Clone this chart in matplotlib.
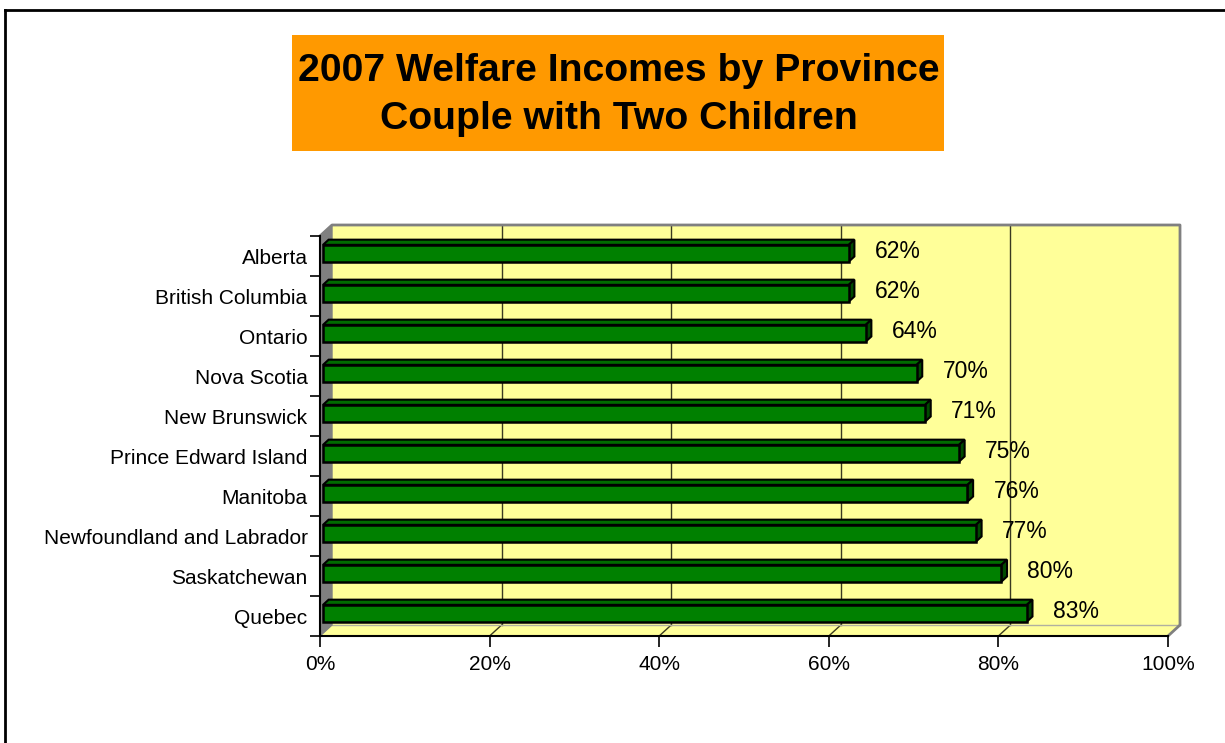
import matplotlib
matplotlib.use('Agg')
import matplotlib.pyplot as plt
from matplotlib.patches import Polygon, Rectangle
from matplotlib.transforms import IdentityTransform
from matplotlib.lines import Line2D

# ---------------- data ----------------
provinces = ["Alberta", "British Columbia", "Ontario", "Nova Scotia", "New Brunswick",
             "Prince Edward Island", "Manitoba", "Newfoundland and Labrador",
             "Saskatchewan", "Quebec"]
values = [62, 62, 64, 70, 71, 75, 76, 77, 80, 83]
value_labels = ["62%", "62%", "64%", "70%", "71%", "75%", "76%", "77%", "80%", "83%"]
xticks = [0, 20, 40, 60, 80, 100]
xticklabels = ["0%", "20%", "40%", "60%", "80%", "100%"]
title_lines = ["2007 Welfare Incomes by Province", "Couple with Two Children"]

plt.rcParams['font.family'] = ['Liberation Sans', 'DejaVu Sans']

W, H = 1225, 743
fig = plt.figure(figsize=(W / 100, H / 100), dpi=100)
fig.patch.set_facecolor('white')

n = len(provinces)
ax = fig.add_axes([320 / W, (H - 636) / H, 848 / W, 400 / H])
ax.set_xlim(0, 100)
ax.set_ylim(n - 0.5, -0.5)
ax.patch.set_visible(False)

DX, DY = 12, 11  # depth offset in pixels
ident = IdentityTransform()


def P(x, y, d):
    px, py = ax.transData.transform((x, y))
    return (px + d * DX, py + d * DY)


def poly(pts, fc, ec='none', lw=1.0, z=0.5):
    ax.add_patch(Polygon(pts, closed=True, facecolor=fc, edgecolor=ec, linewidth=lw,
                         transform=ident, clip_on=False, zorder=z))


def line(pts, color, lw=1.0, z=0.6):
    xs = [p[0] for p in pts]
    ys = [p[1] for p in pts]
    ax.add_line(Line2D(xs, ys, color=color, linewidth=lw, transform=ident,
                       clip_on=False, zorder=z))


top, bot = -0.5, n - 0.5
wall_yellow = '#FFFF99'
grey = '#808080'

# back wall
poly([P(0, top, 1), P(100, top, 1), P(100, bot, 1), P(0, bot, 1)], wall_yellow, z=0.1)
for t in xticks[1:-1]:
    line([P(t, bot, 1), P(t, top, 1)], '#3a3a20', lw=1.0, z=0.2)
# floor
poly([P(0, bot, 0), P(100, bot, 0), P(100, bot, 1), P(0, bot, 1)], wall_yellow, z=0.1)
for t in xticks[1:-1]:
    line([P(t, bot, 0), P(t, bot, 1)], '#3a3a20', lw=1.0, z=0.2)
line([P(0, bot, 1), P(100, bot, 1)], '#b0b0a0', lw=1.0, z=0.2)
# left wall
poly([P(0, top, 0), P(0, top, 1), P(0, bot, 1), P(0, bot, 0)], grey, ec=grey, lw=1, z=0.3)
# back wall border (grey)
line([P(0, top, 0), P(0, top, 1), P(100, top, 1), P(100, bot, 1), P(100, bot, 0)],
     grey, lw=2.0, z=0.3)

# bars
d0, d1 = 0.25, 0.72
h = 0.21
for i, v in enumerate(values):
    yt, yb = i - h, i + h
    front = [P(0, yt, d0), P(v, yt, d0), P(v, yb, d0), P(0, yb, d0)]
    topf = [P(0, yt, d0), P(v, yt, d0), P(v, yt, d1), P(0, yt, d1)]
    side = [P(v, yt, d0), P(v, yb, d0), P(v, yb, d1), P(v, yt, d1)]
    poly(topf, '#006c00', ec='black', lw=1.5, z=2)
    poly(side, '#004a00', ec='black', lw=1.5, z=2)
    poly(front, '#008000', ec='black', lw=1.8, z=2.1)
    ax.annotate(value_labels[i], xy=(v, i), xytext=(29, 4), textcoords='offset pixels',
                ha='left', va='center', fontsize=16.5, color='black', zorder=3,
                annotation_clip=False)

# axes styling
for s in ['top', 'right']:
    ax.spines[s].set_visible(False)
for s in ['left', 'bottom']:
    ax.spines[s].set_color('black')
    ax.spines[s].set_linewidth(1.5)
    ax.spines[s].set_zorder(1)

ax.set_yticks(range(n))
ax.set_yticklabels(provinces, fontsize=15)
ax.set_yticks([k - 0.5 for k in range(n + 1)], minor=True)
ax.tick_params(axis='y', which='major', length=0, pad=9)
ax.tick_params(axis='y', which='minor', length=7, width=1.2, color='black', direction='out')

ax.set_xticks(xticks)
ax.set_xticklabels(xticklabels, fontsize=15)
ax.tick_params(axis='x', which='major', length=8, width=1.2, color='black',
               direction='out', pad=6)

# title box
fig.patches.append(Rectangle((292 / W, (H - 151) / H), 652 / W, 116 / H,
                             transform=fig.transFigure, facecolor='#FF9900',
                             edgecolor='none', zorder=0))
fig.text(619 / W, 1 - 95 / H, "\n".join(title_lines), ha='center', va='center',
         multialignment='center', fontsize=28.3, fontweight='bold', linespacing=1.42,
         color='black')

# figure border (top and left)
fig.add_artist(Line2D([5 / W, 1224 / W], [1 - 10 / H, 1 - 10 / H], color='black',
                      linewidth=2, transform=fig.transFigure))
fig.add_artist(Line2D([5 / W, 5 / W], [0, 1 - 10 / H], color='black',
                      linewidth=2, transform=fig.transFigure))

fig.savefig('out.png', dpi=100)
